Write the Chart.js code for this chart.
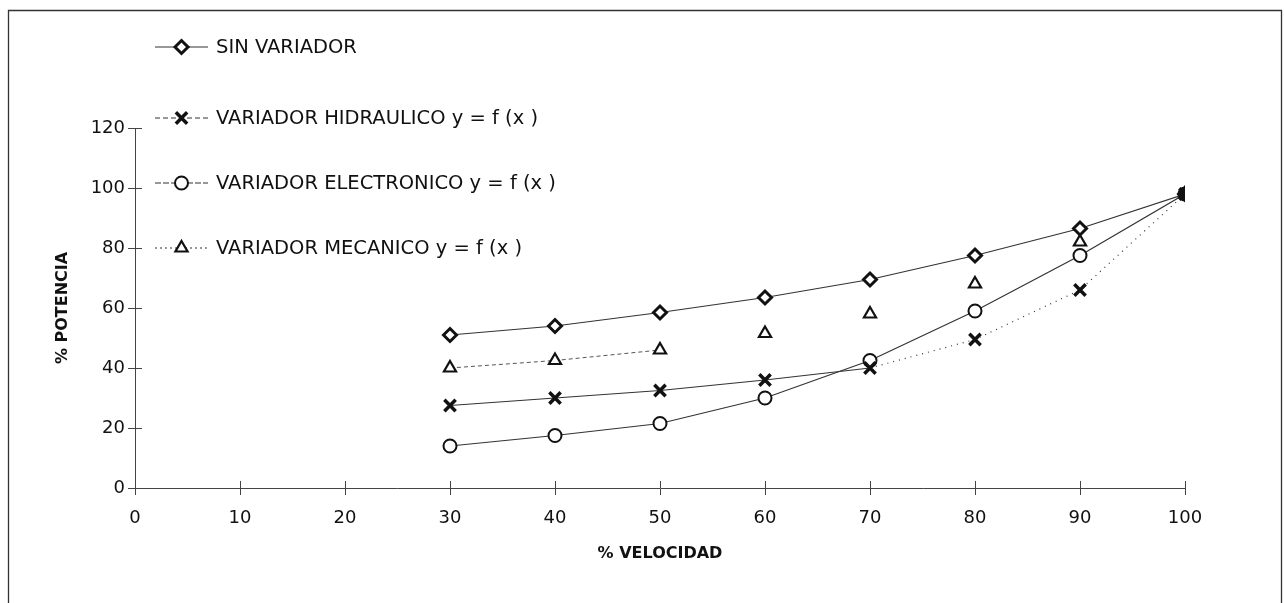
<!DOCTYPE html>
<html>
<head>
<meta charset="utf-8">
<script src="https://cdn.jsdelivr.net/npm/chart.js@4.4.1/dist/chart.umd.min.js"></script>
<style>
  html, body { margin: 0; padding: 0; background: #fff; }
  #wrap { position: relative; width: 1284px; height: 603px; }
</style>
</head>
<body>
<div id="wrap"><canvas id="myChart" width="1284" height="603"></canvas></div>
<script>
// values
const velocidad = [30, 40, 50, 60, 70, 80, 90, 100];      // % VELOCIDAD (x)
const sinVariador = [51, 54, 58.5, 63.5, 69.5, 77.5, 86.5, 98];
const hidraulico = [27.5, 30, 32.5, 36, 40, 49.5, 66, 98];
const electronico = [14, 17.5, 21.5, 30, 42.5, 59, 77.5, 98];
const mecanico = [40, 42.5, 46, 51.5, 58, 68, 82, 98];

const nombres = [
    "SIN VARIADOR",
    "VARIADOR HIDRAULICO y = f (x )",
    "VARIADOR ELECTRONICO y = f (x )",
    "VARIADOR MECANICO y = f (x )"
];

// axis tick limits
const xMin = 0, xMax = 100, xStep = 10;
const yMin = 0, yMax = 120, yStep = 20;

// turn the y array into {x, y} points for a linear x scale
function pts(ys) {
    return velocidad.map((v, i) => ({ x: v, y: ys[i] }));
}

const ink = "#111";
const lineInk = "#333";
const fam = "'DejaVu Sans', Verdana, sans-serif";

// the last point (100 %) is where all four markers pile up into a black square
const fillLast = c => c.dataIndex === velocidad.length - 1 ? ink : "#fff";

// frame, the inner half of the crossing ticks and the legend in the upper left
const extras = {
    id: "extras",
    beforeDraw(chart) {
        const ctx = chart.ctx;
        ctx.save();
        ctx.fillStyle = "#fff";
        ctx.fillRect(0, 0, chart.width, chart.height);
        ctx.strokeStyle = "#333";
        ctx.lineWidth = 1.3;
        ctx.beginPath();
        ctx.moveTo(8.5, chart.height + 5);
        ctx.lineTo(8.5, 10.5);
        ctx.lineTo(chart.width - 2.5, 10.5);
        ctx.lineTo(chart.width - 2.5, chart.height + 5);
        ctx.stroke();
        ctx.restore();
    },
    afterDraw(chart, args, opts) {
        const ctx = chart.ctx;
        const sx = chart.scales.x, sy = chart.scales.y;
        ctx.save();
        ctx.strokeStyle = "#444";
        ctx.lineWidth = 1;
        ctx.beginPath();
        sx.ticks.forEach((t, i) => {
            const px = Math.round(sx.getPixelForTick(i)) + 0.5;
            ctx.moveTo(px, sy.bottom);
            ctx.lineTo(px, sy.bottom - 7);
        });
        sy.ticks.forEach((t, i) => {
            const py = Math.round(sy.getPixelForTick(i)) + 0.5;
            ctx.moveTo(sx.left, py);
            ctx.lineTo(sx.left + 7, py);
        });
        ctx.stroke();

        // legend
        ctx.font = opts.font;
        ctx.textBaseline = "middle";
        ctx.textAlign = "left";
        chart.data.datasets.forEach((ds, i) => {
            const yy = opts.rows[i];
            ctx.strokeStyle = lineInk;
            ctx.lineWidth = 1.2;
            ctx.setLineDash(ds.legendDash || []);
            ctx.beginPath();
            ctx.moveTo(opts.x0, yy);
            ctx.lineTo(opts.x1, yy);
            ctx.stroke();
            ctx.setLineDash([]);
            ctx.strokeStyle = ink;
            ctx.fillStyle = "#fff";
            ctx.lineWidth = ds.pointBorderWidth;
            Chart.helpers.drawPoint(ctx, {
                pointStyle: ds.pointStyle,
                radius: ds.pointRadius,
                borderWidth: ds.pointBorderWidth,
                rotation: 0
            }, (opts.x0 + opts.x1) / 2, yy);
            ctx.fillStyle = ink;
            ctx.fillText(ds.label, opts.textX, yy + 1);
        });
        ctx.restore();
    }
};

const config = {
    type: "line",
    data: {
        datasets: [
            {
                label: nombres[0],
                data: pts(sinVariador),
                borderColor: lineInk,
                borderWidth: 1.2,
                pointStyle: "rectRot",
                pointRadius: 6.5,
                pointBorderWidth: 3,
                pointBorderColor: ink,
                pointBackgroundColor: fillLast,
                legendDash: []
            },
            {
                label: nombres[1],
                data: pts(hidraulico),
                borderColor: lineInk,
                borderWidth: 1.2,
                pointStyle: "crossRot",
                pointRadius: 8,
                pointBorderWidth: 3.5,
                pointBorderColor: ink,
                pointBackgroundColor: fillLast,
                legendDash: [5, 3],
                segment: {
                    borderDash: c => c.p0.parsed.x >= 70 ? [1, 5] : undefined
                }
            },
            {
                label: nombres[2],
                data: pts(electronico),
                borderColor: lineInk,
                borderWidth: 1.2,
                pointStyle: "circle",
                pointRadius: 6.5,
                pointBorderWidth: 2,
                pointBorderColor: ink,
                pointBackgroundColor: fillLast,
                legendDash: [6, 2]
            },
            {
                label: nombres[3],
                data: pts(mecanico),
                borderColor: "#555",
                borderWidth: 1,
                borderDash: [4, 3],
                pointStyle: "triangle",
                pointRadius: 7,
                pointBorderWidth: 2.2,
                pointBorderColor: ink,
                pointBackgroundColor: fillLast,
                legendDash: [2, 3],
                segment: {
                    borderColor: c => c.p0.parsed.x >= 50 ? "rgba(0,0,0,0)" : undefined
                }
            }
        ]
    },
    options: {
        responsive: false,
        animation: false,
        devicePixelRatio: 1,
        layout: { padding: { left: 0, top: 128, right: 99, bottom: 0 } },
        plugins: {
            legend: { display: false },
            tooltip: { enabled: false },
            extras: {
                rows: [47, 118, 183, 248],
                x0: 155, x1: 208, textX: 216,
                font: "19.5px " + fam
            }
        },
        scales: {
            x: {
                type: "linear",
                min: xMin, max: xMax,
                afterFit: s => { s.height = 115; },
                grid: { drawOnChartArea: false, drawTicks: true, tickLength: 7, color: "#444" },
                border: { display: true, color: "#444", width: 1 },
                ticks: {
                    stepSize: xStep,
                    padding: 13,
                    color: ink,
                    font: { family: fam, size: 18 }
                },
                title: {
                    display: true,
                    text: "% VELOCIDAD",
                    color: ink,
                    font: { family: fam, size: 16, weight: "bold" },
                    padding: { top: 0, bottom: 40 }
                }
            },
            y: {
                min: yMin, max: yMax,
                afterFit: s => { s.width = 135; },
                grid: { drawOnChartArea: false, drawTicks: true, tickLength: 7, color: "#444" },
                border: { display: true, color: "#444", width: 1 },
                ticks: {
                    stepSize: yStep,
                    padding: 3,
                    color: ink,
                    font: { family: fam, size: 18 }
                },
                title: {
                    display: true,
                    text: "% POTENCIA",
                    color: ink,
                    font: { family: fam, size: 16, weight: "bold" },
                    padding: { top: 53, bottom: 0 }
                }
            }
        }
    },
    plugins: [extras]
};

const ctx = document.getElementById("myChart").getContext("2d");
const myChart = new Chart(ctx, config);
</script>
</body>
</html>
